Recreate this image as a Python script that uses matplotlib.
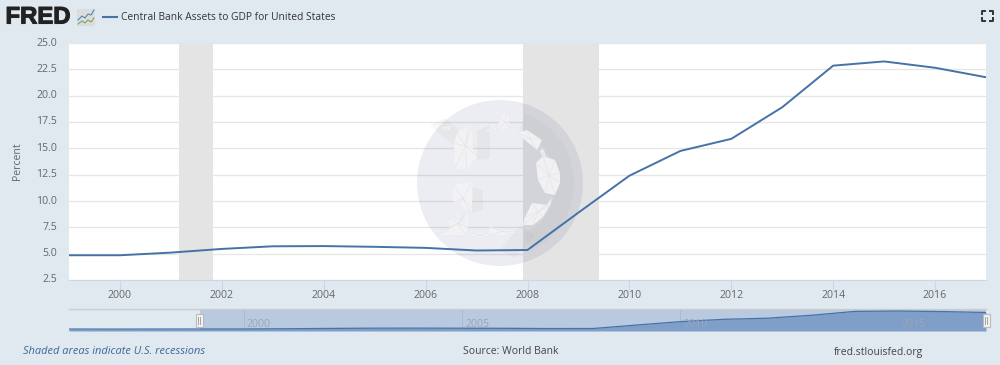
#!/usr/bin/env python3
# FRED style chart: central bank assets to GDP, with range navigator below
import matplotlib
matplotlib.use("Agg")
import matplotlib.pyplot as plt
import matplotlib.patheffects as pe
from matplotlib.patches import Circle, Polygon, Rectangle, Wedge
from matplotlib.transforms import Affine2D, ScaledTranslation

W, H = 1000, 365

years = [1999, 2000, 2001, 2002, 2003, 2004, 2005, 2006, 2007, 2008, 2009,
         2010, 2011, 2012, 2013, 2014, 2015, 2016, 2017]
assets = [4.85, 4.85, 5.1, 5.45, 5.7, 5.72, 5.65, 5.55, 5.3, 5.35, 8.9,
          12.4, 14.75, 15.9, 18.9, 22.85, 23.25, 22.65, 21.75]
early_years = [1996, 1997, 1998]
early_assets = [4.8, 4.75, 4.8]
rec_start = [2001.16, 2007.92]
rec_end = [2001.83, 2009.41]
y_ticks = [2.5, 5.0, 7.5, 10.0, 12.5, 15.0, 17.5, 20.0, 22.5, 25.0]
x_ticks = [2000, 2002, 2004, 2006, 2008, 2010, 2012, 2014, 2016]
nav_ticks = [2000, 2005, 2010, 2015]

BG = "#e1e9f0"
BLUE = "#4572a7"
GREY_TXT = "#666666"

# watermark decoration, in pixels
GLOBE_PIECES = [
    [(454, 143), (457, 133), (468, 126), (472, 126), (473, 148), (477, 156), (467, 170), (455, 168)],
    [(440, 128), (453, 125), (448, 131)],
    [(483, 131), (497, 126), (495, 131)],
    [(500, 118), (507, 111), (509, 123), (510, 128), (498, 130)],
    [(518, 133), (527, 130), (542, 140), (537, 150), (525, 140)],
    [(536, 163), (543, 156), (555, 160), (560, 173), (560, 183), (555, 195), (545, 193), (538, 180)],
    [(540, 151), (543, 149), (546, 156), (543, 157)],
    [(532, 203), (547, 205), (552, 198), (550, 205), (543, 217), (533, 225), (523, 225), (525, 217)],
    [(453, 185), (472, 182), (472, 207), (470, 213), (458, 203), (453, 202)],
    [(448, 218), (465, 222), (465, 212), (468, 212), (468, 227), (465, 235), (438, 235), (450, 227)],
    [(472, 233), (487, 233), (487, 237), (472, 237)],
    [(490, 227), (502, 230), (516, 231), (513, 234), (490, 235)],
]
GLOBE_SHADE = [
    [(430, 125), (445, 118), (475, 145), (465, 155)],
    [(477, 131), (490, 125), (490, 158), (477, 160)],
    [(473, 187), (483, 190), (483, 210), (472, 213)],
    [(500, 250), (520, 225), (535, 235), (515, 258)],
]


def px_rect(x0, y0, x1, y1):
    return [x0 / W, 1 - y1 / H, (x1 - x0) / W, (y1 - y0) / H]


def px_text(fig, x, y, s, **kw):
    return fig.text(x / W, 1 - y / H, s, va="center", **kw)


def draw_globe(ax):
    px = Affine2D().scale(1, -1).translate(0, H)
    ax.add_patch(Circle((500, 183), 83, transform=px, color="#32417d", alpha=0.095, lw=0, zorder=2))
    ax.add_patch(Wedge((500, 183), 74, -70, 65, width=18, transform=px, color="#8a8670", alpha=0.06, lw=0, zorder=2.05))
    for pts in GLOBE_SHADE:
        ax.add_patch(Polygon(pts, closed=True, transform=px, color="#8a8670", alpha=0.06, lw=0, zorder=2.05))
    for pts in GLOBE_PIECES:
        ax.add_patch(Polygon(pts, closed=True, transform=px, color="#f3f3f5", alpha=0.95, lw=0, zorder=2.1))
        cx = sum(p[0] for p in pts) / len(pts)
        cy = sum(p[1] for p in pts) / len(pts)
        for p in pts:
            ax.plot([cx, p[0]], [cy, p[1]], transform=px, color="#e2e3e8", lw=0.4, zorder=2.2)


def main():
    plt.rcParams["font.family"] = ["Open Sans", "DejaVu Sans"]
    fig = plt.figure(figsize=(W / 100, H / 100), dpi=100, facecolor=BG)

    # main plot
    ax = fig.add_axes(px_rect(69, 43, 986, 280))
    ax.set_xlim(1999, 2017)
    ax.set_ylim(2.5, 25)
    for s0, s1 in zip(rec_start, rec_end):
        ax.axvspan(s0, s1, color="#e4e4e4", lw=0, zorder=1)
    ax.set_yticks(y_ticks)
    ax.set_yticklabels([f"{v:.1f}" for v in y_ticks])
    ax.set_xticks(x_ticks)
    ax.grid(True, axis="y", color="#e6e6e6", lw=0.9, zorder=1.5)
    ax.set_axisbelow(True)
    draw_globe(ax)
    ax.set_xlim(1999, 2017)
    ax.set_ylim(2.5, 25)
    ax.plot(years, assets, color=BLUE, lw=1.4, zorder=3)
    for s in ("top", "left", "right"):
        ax.spines[s].set_visible(False)
    ax.spines["bottom"].set_color("#ccd6eb")
    ax.tick_params(axis="x", length=7, width=0.8, color="#ccd6eb", labelsize=7.6,
                   labelcolor=GREY_TXT, pad=0.5)
    ax.tick_params(axis="y", length=0, labelsize=7.6, labelcolor=GREY_TXT, pad=8.5)
    up = ScaledTranslation(0, 1.5 / 100, fig.dpi_scale_trans)
    for lab in ax.get_yticklabels():
        lab.set_transform(lab.get_transform() + up)
    ax.set_ylabel("Percent", fontsize=7.6, color=GREY_TXT, labelpad=9.8)

    # navigator
    nav = fig.add_axes(px_rect(69, 309, 986, 331))
    nav.patch.set_alpha(0)
    all_years = early_years + years
    all_assets = early_assets + assets
    nav.set_xlim(1996, 2017)
    nav.set_ylim(2.8, 25.3)
    nav.axvspan(1999, 2017, color="#b8c9e0", lw=0, zorder=1)
    nav.fill_between(all_years, all_assets, 2.8, color="#7f9fc8", lw=0, zorder=2)
    nav.plot(all_years, all_assets, color=BLUE, lw=0.9, zorder=3)
    for yr in nav_ticks:
        nav.axvline(yr, color="#a9b9d2", lw=0.6, zorder=1.5)
        nav.text(yr + 0.07, 9.8, str(yr), color="#9aa5b8", fontsize=7.6, va="center", ha="left", zorder=4)
    nav.set_xticks([])
    nav.set_yticks([])
    for s in ("left", "right", "bottom"):
        nav.spines[s].set_visible(False)
    nav.spines["top"].set_color("#cccccc")
    nav.spines["top"].set_linewidth(1.0)

    # overlay in pixels for logo, handles, icon
    over = fig.add_axes([0, 0, 1, 1], zorder=5)
    over.set_xlim(0, W)
    over.set_ylim(H, 0)
    over.axis("off")
    for hx in (199, 986):
        over.add_patch(Rectangle((hx - 3.5, 314), 7, 13, fc="#f2f2f2", ec="#bbbbbb", lw=0.8))
        over.plot([hx - 1, hx - 1], [317, 324], color="#999999", lw=0.6)
        over.plot([hx + 1, hx + 1], [317, 324], color="#999999", lw=0.6)
    over.plot([103, 117], [17, 17], color=BLUE, lw=1.5)
    # small logo chart
    over.add_patch(Rectangle((77, 9), 18, 17, fc="#d9dddd", ec="none"))
    over.plot([78, 82, 85, 88, 91, 94], [20, 16, 18, 14, 15, 10], color="#4a7ab0", lw=0.7)
    over.plot([78, 82, 85, 88, 91, 94], [24, 21, 23, 20, 22, 18], color="#7a9a4a", lw=0.7)
    # fullscreen corners
    for cx, cy, dx, dy in [(982, 11, 1, 1), (992.5, 11, -1, 1), (982, 21, 1, -1), (992.5, 21, -1, -1)]:
        over.plot([cx + 3 * dx, cx, cx], [cy, cy, cy + 3 * dy], color="#333333", lw=1.4)

    logo = px_text(fig, 5.5, 17, "FRED", family=["Liberation Sans", "DejaVu Sans"], fontsize=17.2,
                   fontweight="bold", color="#222222", zorder=6)
    logo.set_path_effects([pe.withStroke(linewidth=0.8, foreground="#222222")])
    px_text(fig, 121, 17, "Central Bank Assets to GDP for United States", fontsize=7.42, color="#333333")
    px_text(fig, 23, 352, "Shaded areas indicate U.S. recessions", fontsize=7.9, color="#3c6699",
            style="italic")
    px_text(fig, 463, 352, "Source: World Bank", fontsize=7.45, color="#444444")
    px_text(fig, 834, 352, "fred.stlouisfed.org", fontsize=7.5, color="#444444")

    fig.savefig("out.png", dpi=100, facecolor=BG)


if __name__ == "__main__":
    main()
